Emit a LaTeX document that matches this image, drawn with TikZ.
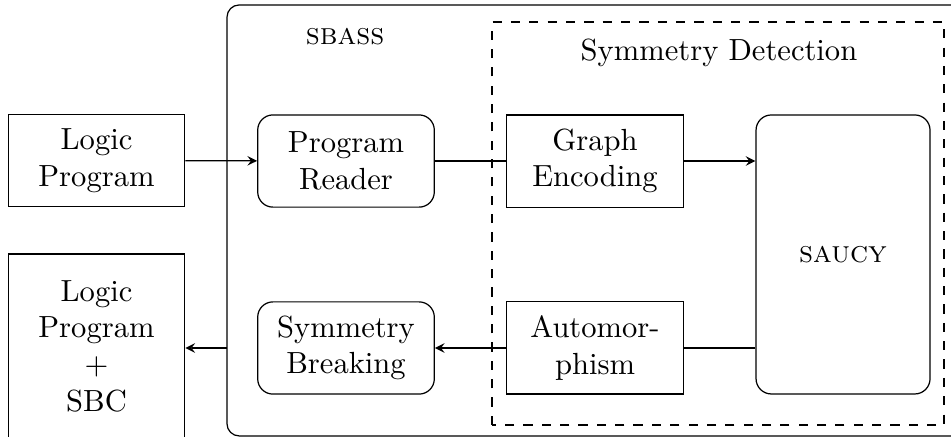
\documentclass[tikz,border=0pt]{standalone}
\usetikzlibrary{arrows}
\tikzset{
  block/.style={draw, align=center, minimum width=2.03cm, minimum height=1.06cm},
  rblock/.style={block, rounded corners=5pt},
  >=stealth,
}
\begin{document}
\begin{tikzpicture}
\useasboundingbox (0, 0) rectangle (10.931, 5.023);

\node [block] (lp) at (1.109, 3.178) {Logic\\Program};
\node [block, minimum height=2.115cm] (lpsbc) at (1.109, 1.046) {Logic\\Program\\$+$\\SBC};

%%%%%%%%%%%%%%%%%%%%%%%%%%%%%%%%%%%%%%%%

\draw [rounded corners] (2.609, 0.012) rectangle (11.5, 4.966);
\node [anchor=base] (sbass) at (3.966, 4.506) {\textsc{sbass}};
\draw [dashed] (5.655, 0.138) rectangle (10.851, 4.770);
\node [anchor=base] (detect) at (8.264, 4.333) {Symmetry Detection};

\node [rblock] (reader) at (3.977, 3.172) {Program\\Reader};
\node [block] (encoding) at (6.839, 3.172) {Graph\\Encoding};
\node [rblock, minimum width=2.0cm, minimum height=3.207cm] (saucy) at (9.690, 2.098) {\textsc{saucy}};
\node [block] (automorph) at (6.839, 1.023) {Automor-\\phism};
\node [rblock] (breaking) at (3.977, 1.023) {Symmetry\\Breaking};
\coordinate (out) at (2.609, 1.023);

%%%%%%%%%%%%%%%%%%%%%%%%%%%%%%%%%%%%%%%%

\draw [->] (lp) -- (reader);
\draw (reader) -- (encoding);
\draw [->] (encoding) -- (encoding -| saucy.west);
\draw (saucy.west |- automorph) -- (automorph);
\draw [->] (automorph) -- (breaking);
\draw [->] (out) -- (out -| lpsbc.east);

\end{tikzpicture}
\end{document}
